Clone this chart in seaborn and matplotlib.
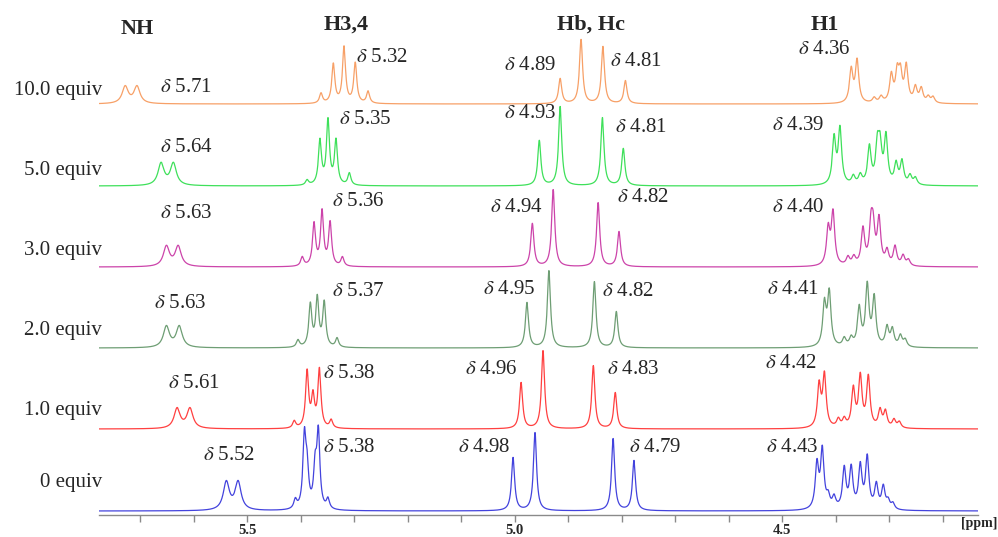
import numpy as np
import pandas as pd
import matplotlib
matplotlib.use("Agg")
import matplotlib.pyplot as plt
import seaborn as sns

# ---------------- data ----------------
series_names = ["10.0 equiv", "5.0 equiv", "3.0 equiv", "2.0 equiv", "1.0 equiv", "0 equiv"]

# peak positions (ppm) and intensities (arb. units) for every spectrum
eq10_ppm = [5.728, 5.706, 5.362, 5.339, 5.319, 5.298, 5.274, 4.915, 4.876, 4.835, 4.793,
            4.371, 4.360, 4.328, 4.315, 4.296, 4.285, 4.279, 4.268, 4.251, 4.240, 4.227, 4.218]
eq10_int = [17, 17, 10, 39, 56, 40, 12, 25, 64, 57, 23,
            33, 42, 5, 6, 27, 28, 27, 36, 15, 14, 6, 6]

eq5_ppm = [5.661, 5.638, 5.388, 5.364, 5.349, 5.334, 5.309, 4.954, 4.915, 4.836, 4.797,
           4.403, 4.392, 4.367, 4.354, 4.337, 4.322, 4.317, 4.306, 4.287, 4.276, 4.261, 4.251]
eq5_int = [22, 22, 5, 44, 64, 44, 12, 45, 79, 68, 37,
           46, 55, 8, 9, 37, 36, 34, 47, 20, 23, 9, 7]

eq3_ppm = [5.651, 5.629, 5.397, 5.375, 5.360, 5.345, 5.322, 4.967, 4.928, 4.844, 4.805,
           4.414, 4.405, 4.377, 4.366, 4.349, 4.334, 4.330, 4.319, 4.304, 4.289, 4.274, 4.264]
eq3_int = [20, 20, 9, 42, 54, 43, 9, 43, 77, 64, 35,
           36, 52, 8, 8, 36, 36, 32, 45, 14, 19, 10, 6]

eq2_ppm = [5.651, 5.627, 5.405, 5.382, 5.369, 5.356, 5.332, 4.977, 4.936, 4.851, 4.810,
           4.421, 4.412, 4.384, 4.371, 4.356, 4.341, 4.328, 4.304, 4.294, 4.279, 4.270]
eq2_int = [21, 21, 7, 42, 48, 44, 9, 45, 77, 66, 36,
           42, 53, 8, 8, 38, 60, 48, 19, 17, 11, 7]

eq1_ppm = [5.631, 5.607, 5.412, 5.388, 5.377, 5.365, 5.343, 4.988, 4.947, 4.853, 4.812,
           4.431, 4.421, 4.395, 4.384, 4.367, 4.354, 4.339, 4.317, 4.307, 4.291, 4.281]
eq1_int = [20, 20, 7, 56, 30, 58, 8, 46, 78, 63, 36,
           42, 52, 8, 8, 38, 50, 50, 17, 16, 8, 6]

eq0_ppm = [5.539, 5.517, 5.410, 5.393, 5.388, 5.373, 5.367, 5.349, 5.003, 4.962, 4.816, 4.777,
           4.435, 4.425, 4.414, 4.403, 4.384, 4.371, 4.354, 4.341, 4.324, 4.311, 4.302, 4.293]
eq0_int = [28, 28, 9, 70, 35, 38, 74, 10, 53, 78, 72, 50,
           44, 58, 11, 11, 40, 40, 42, 51, 24, 22, 8, 6]

# chemical-shift annotations per spectrum
labels10 = ["5.71", "5.32", "4.89", "4.81", "4.36"]
labels5 = ["5.64", "5.35", "4.93", "4.81", "4.39"]
labels3 = ["5.63", "5.36", "4.94", "4.82", "4.40"]
labels2 = ["5.63", "5.37", "4.95", "4.82", "4.41"]
labels1 = ["5.61", "5.38", "4.96", "4.83", "4.42"]
labels0 = ["5.52", "5.38", "4.98", "4.79", "4.43"]

group_names = ["NH", "H3,4", "Hb, Hc", "H1"]
tick_values = [5.7, 5.6, 5.5, 5.4, 5.3, 5.2, 5.1, 5.0, 4.9, 4.8, 4.7, 4.6, 4.5, 4.4, 4.3, 4.2]
tick_labelled = [5.5, 5.0, 4.5]

# ---------------- layout / style ----------------
colors = {"10.0 equiv": "#F7A067", "5.0 equiv": "#3EE05A", "3.0 equiv": "#CC44AA",
          "2.0 equiv": "#6E9E74", "1.0 equiv": "#FF4040", "0 equiv": "#4343DD"}
offsets = {"10.0 equiv": 411, "5.0 equiv": 329, "3.0 equiv": 248,
           "2.0 equiv": 167, "1.0 equiv": 86, "0 equiv": 4}
row_label_y = {"10.0 equiv": 425, "5.0 equiv": 345, "3.0 equiv": 265,
               "2.0 equiv": 185, "1.0 equiv": 105, "0 equiv": 32}
# (left ppm, y) of each annotation in a row
label_pos = {
    "10.0 equiv": [(5.663, 428), (5.296, 458), (5.020, 450), (4.821, 453), (4.470, 465)],
    "5.0 equiv": [(5.663, 368), (5.328, 395), (5.020, 402), (4.812, 388), (4.519, 390)],
    "3.0 equiv": [(5.663, 302), (5.341, 313), (5.046, 308), (4.808, 318), (4.519, 307)],
    "2.0 equiv": [(5.674, 211), (5.341, 224), (5.059, 225), (4.836, 223), (4.528, 226)],
    "1.0 equiv": [(5.648, 132), (5.358, 141), (5.093, 145), (4.827, 145), (4.532, 151)],
    "0 equiv": [(5.582, 60), (5.358, 67), (5.106, 68), (4.786, 68), (4.530, 68)],
}
group_pos = [(5.706, 486), (5.315, 490), (4.857, 490), (4.420, 490)]

peaks = {"10.0 equiv": (eq10_ppm, eq10_int), "5.0 equiv": (eq5_ppm, eq5_int),
         "3.0 equiv": (eq3_ppm, eq3_int), "2.0 equiv": (eq2_ppm, eq2_int),
         "1.0 equiv": (eq1_ppm, eq1_int), "0 equiv": (eq0_ppm, eq0_int)}
labels = {"10.0 equiv": labels10, "5.0 equiv": labels5, "3.0 equiv": labels3,
          "2.0 equiv": labels2, "1.0 equiv": labels1, "0 equiv": labels0}

XMAX, XMIN = 5.777, 4.134


def hwhm_for(pos):
    pos = np.asarray(pos)
    return np.where(pos > 5.45, 0.0068, np.where(pos > 5.2, 0.0034,
                    np.where(pos > 4.6, 0.0035, 0.0038)))


grid = np.linspace(XMIN, XMAX, 7000)
frames = []
for name in series_names:
    pos, inten = peaks[name]
    pos = np.asarray(pos)
    inten = np.asarray(inten, dtype=float)
    g = hwhm_for(pos)
    spec = (inten[:, None] * g[:, None] ** 2 /
            ((grid[None, :] - pos[:, None]) ** 2 + g[:, None] ** 2)).sum(axis=0)
    frames.append(pd.DataFrame({"ppm": grid, "y": spec + offsets[name], "series": name}))
df = pd.concat(frames, ignore_index=True)

# ---------------- drawing ----------------
sns.set_style("white")
plt.rcParams["font.family"] = ["Liberation Serif", "DejaVu Serif"]
plt.rcParams["mathtext.fontset"] = "stix"

fig = plt.figure(figsize=(9.98, 5.37), dpi=100)
ax = fig.add_axes([99 / 998, 22 / 537, 879 / 998, 515 / 537])

sns.lineplot(data=df, x="ppm", y="y", hue="series", hue_order=series_names,
             palette=colors, sort=False, estimator=None, linewidth=0.9,
             legend=False, ax=ax)

ax.set_xlim(XMAX, XMIN)
ax.set_ylim(0, 515)
ax.set_xlabel("")
ax.set_ylabel("")
ax.set_yticks([])
for s in ["top", "left", "right"]:
    ax.spines[s].set_visible(False)
ax.spines["bottom"].set_color("#8a8a8a")
ax.spines["bottom"].set_linewidth(1.0)
ax.set_xticks(tick_values)
ax.set_xticklabels([f"{t:.1f}" if t in tick_labelled else "" for t in tick_values],
                   fontweight="bold", fontsize=10.5)
ax.tick_params(axis="x", direction="out", length=5, width=1.0, color="#8a8a8a",
               pad=1.5, bottom=True)

for name in series_names:
    ax.text(5.771, row_label_y[name], name, ha="right", va="center",
            fontsize=15, clip_on=False)
    for (xp, yp), lab in zip(label_pos[name], labels[name]):
        ax.text(xp, yp, r"$\delta$ " + lab, ha="left", va="center",
                fontsize=15, clip_on=False)

for (xp, yp), gname in zip(group_pos, group_names):
    ax.text(xp, yp, gname, ha="center", va="center", fontsize=16,
            fontweight="bold", clip_on=False)

fig.text(0.999, 1 - 523 / 537, "[ppm]", ha="right", va="center",
         fontsize=10, fontweight="bold")

fig.savefig("out.png", dpi=100)
